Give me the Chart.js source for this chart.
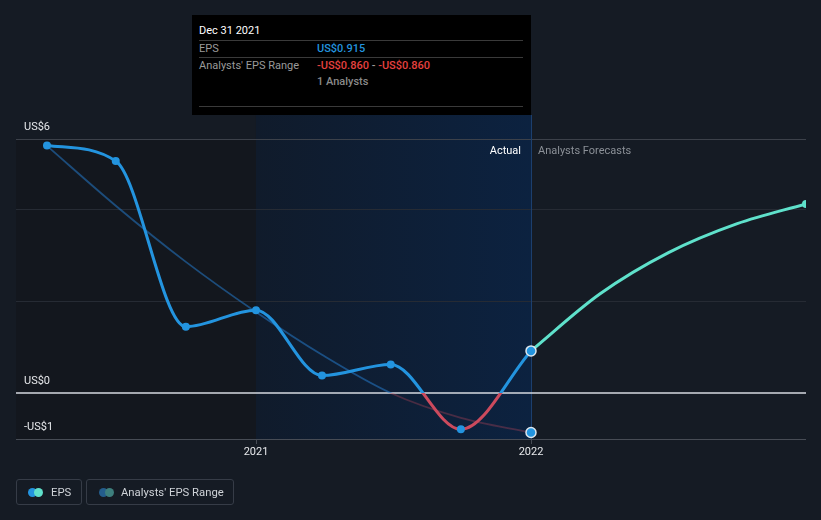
<!DOCTYPE html>
<html>
<head>
<meta charset="utf-8">
<script src="https://cdn.jsdelivr.net/npm/chart.js@4/dist/chart.umd.min.js"></script>
<style>
html,body{margin:0;padding:0;background:#151b24;width:821px;height:520px;overflow:hidden;font-family:Roboto,"Noto Sans",Arial,sans-serif;}
#wrap{position:relative;width:821px;height:520px;}
#c{position:absolute;left:0;top:0;}
#tip{position:absolute;left:192px;top:15px;width:339px;height:100px;background:#000;font-size:11px;}
#tip .t{position:absolute;line-height:13px;white-space:nowrap;}
#tip .ln{position:absolute;left:7px;width:324px;height:1px;background:#3a3a3a;}
.lg{position:absolute;top:479px;height:26px;border:1px solid #363c47;border-radius:3px;box-sizing:border-box;}
.lg .dot{position:absolute;top:8px;width:9px;height:9px;border-radius:50%;}
.lg .tx{position:absolute;top:6px;line-height:13px;font-size:11.3px;color:#cfd3d8;white-space:nowrap;}
</style>
</head>
<body>
<div id="wrap">
<canvas id="c" width="821" height="520"></canvas>
<div id="tip">
  <div class="t" style="left:7px;top:9px;color:#fff;">Dec 31 2021</div>
  <div class="ln" style="top:25px;"></div>
  <div class="t" style="left:7px;top:27px;color:#9a9a9a;">EPS</div>
  <div class="t" style="left:125px;top:27px;color:#2394df;font-weight:500;">US$0.915</div>
  <div class="ln" style="top:42px;"></div>
  <div class="t" style="left:7px;top:44px;color:#9a9a9a;">Analysts' EPS Range</div>
  <div class="t" style="left:125px;top:44px;font-weight:500;"><span style="color:#e5403f;">-US$0.860</span><span style="color:#9a9a9a;"> - </span><span style="color:#e5403f;">-US$0.860</span></div>
  <div class="t" style="left:125px;top:60px;color:#8a8a8a;font-weight:500;">1 Analysts</div>
  <div class="ln" style="top:91px;"></div>
</div>
<div class="lg" style="left:16px;width:66px;">
  <div class="dot" style="left:11px;background:#2394df;"></div>
  <div class="dot" style="left:17px;background:#5fe1cb;"></div>
  <div class="tx" style="left:34px;">EPS</div>
</div>
<div class="lg" style="left:86px;width:148px;">
  <div class="dot" style="left:12px;background:#245d8c;"></div>
  <div class="dot" style="left:18px;background:#3d7f7d;"></div>
  <div class="tx" style="left:34px;">Analysts' EPS Range</div>
</div>
</div>
<script>
// ---- data (decimal years, US$) ----
const epsDates = [2020.24, 2020.49, 2020.745, 2021.0, 2021.24, 2021.49, 2021.745, 2022.0];
const epsValues = [5.38, 5.04, 1.44, 1.80, 0.38, 0.62, -0.79, 0.915];
const rangeDates = [2020.24, 2020.49, 2020.745, 2021.0, 2021.24, 2021.49, 2021.745, 2022.0];
const rangeValues = [5.37, 4.07, 2.85, 1.76, 0.83, 0.0, -0.54, -0.86];
const forecastDates = [2022.0, 2022.25, 2022.5, 2022.75, 2023.0];
const forecastValues = [0.915, 2.15, 3.05, 3.68, 4.11];
const xTickValues = [2021, 2022];
const xTickLabels = ['2021', '2022'];
const yTickValues = [5.52, 0, -1];
const yTickLabels = ['US$6', 'US$0', '-US$1'];
const gridValues = [2, 4];
const xMin = 2020.1273, xMax = 2023.0, yMin = -1, yMax = 5.52;
const actualStart = 2021, actualEnd = 2022;

const BLUE = '#2394df', RED = '#cc4a5d', TEAL = '#5fe1cb';

function zeroSplit(colAbove, colBelow) {
  return function(context) {
    const chart = context.chart;
    const a = chart.chartArea;
    if (!a) return colAbove;
    const y0 = chart.scales.y.getPixelForValue(0);
    const s = Math.min(1, Math.max(0, (y0 - a.top) / (a.bottom - a.top)));
    const g = chart.ctx.createLinearGradient(0, a.top, 0, a.bottom);
    g.addColorStop(0, colAbove); g.addColorStop(s, colAbove);
    g.addColorStop(s, colBelow); g.addColorStop(1, colBelow);
    return g;
  };
}

const decor = {
  id: 'decor',
  beforeDatasetsDraw(chart) {
    const {ctx, chartArea: a, scales: {x, y}} = chart;
    const xa = x.getPixelForValue(actualStart), xb = x.getPixelForValue(actualEnd);
    ctx.save();
    ctx.fillStyle = '#13171e';
    ctx.fillRect(a.left, a.top, xa - a.left, a.bottom - a.top);
    const g = ctx.createLinearGradient(xa, 0, xb, 0);
    g.addColorStop(0, '#101b2b'); g.addColorStop(1, '#0c2240');
    ctx.fillStyle = g;
    ctx.fillRect(xa, 115, xb - xa, a.bottom - 115);
    // grid lines
    ctx.lineWidth = 1;
    ctx.strokeStyle = '#262b34';
    gridValues.forEach(v => {
      const py = Math.round(y.getPixelForValue(v)) + 0.5;
      ctx.beginPath(); ctx.moveTo(a.left, py); ctx.lineTo(a.right, py); ctx.stroke();
    });
    ctx.strokeStyle = '#3c414a';
    let py = Math.round(a.top) + 0.5;
    ctx.beginPath(); ctx.moveTo(a.left, py); ctx.lineTo(a.right, py); ctx.stroke();
    ctx.strokeStyle = '#474c55';
    py = Math.round(a.bottom) + 0.5;
    ctx.beginPath(); ctx.moveTo(a.left, py); ctx.lineTo(a.right, py); ctx.stroke();
    // ticks
    xTickValues.forEach(v => {
      const px = Math.round(x.getPixelForValue(v)) + 0.5;
      ctx.beginPath(); ctx.moveTo(px, a.bottom); ctx.lineTo(px, a.bottom + 5); ctx.stroke();
    });
    // divider at forecast start
    ctx.strokeStyle = '#1c3f6e';
    const pxb = Math.round(xb) + 0.5;
    ctx.beginPath(); ctx.moveTo(pxb, 115); ctx.lineTo(pxb, a.bottom); ctx.stroke();
    // zero line
    ctx.strokeStyle = '#d6dae0';
    ctx.lineWidth = 1.5;
    const pz = y.getPixelForValue(0);
    ctx.beginPath(); ctx.moveTo(a.left, pz); ctx.lineTo(a.right, pz); ctx.stroke();
    ctx.restore();
  },
  afterDraw(chart) {
    const {ctx, chartArea: a, scales: {x, y}} = chart;
    ctx.save();
    ctx.font = '11px Roboto, "Noto Sans", sans-serif';
    ctx.textBaseline = 'middle';
    ctx.fillStyle = '#e6e8eb';
    ctx.textAlign = 'left';
    yTickValues.forEach((v, i) => {
      ctx.fillText(yTickLabels[i], 24, y.getPixelForValue(v) - 12);
    });
    ctx.textAlign = 'center';
    xTickValues.forEach((v, i) => {
      ctx.fillText(xTickLabels[i], x.getPixelForValue(v), a.bottom + 13);
    });
    const xb = x.getPixelForValue(actualEnd);
    ctx.textAlign = 'right';
    ctx.fillStyle = '#ffffff';
    ctx.fillText('Actual', xb - 10, a.top + 12);
    ctx.textAlign = 'left';
    ctx.fillStyle = '#8b9097';
    ctx.fillText('Analysts Forecasts', xb + 7, a.top + 12);
    ctx.restore();
  }
};

const toXY = (xs, ys) => xs.map((d, i) => ({x: d, y: ys[i]}));
const nEps = epsValues.length, nRange = rangeValues.length, nF = forecastValues.length;

new Chart(document.getElementById('c'), {
  type: 'line',
  data: {
    datasets: [
      {
        label: 'EPS',
        data: toXY(epsDates, epsValues),
        borderColor: zeroSplit(BLUE, RED),
        borderWidth: 3,
        cubicInterpolationMode: 'monotone',
        pointBackgroundColor: BLUE,
        pointBorderColor: epsValues.map((v, i) => i === nEps - 1 ? '#dde6ee' : BLUE),
        pointBorderWidth: epsValues.map((v, i) => i === nEps - 1 ? 1.5 : 0),
        pointRadius: epsValues.map((v, i) => i === nEps - 1 ? 5 : 4),
        order: 0
      },
      {
        label: 'EPS forecast',
        data: toXY(forecastDates, forecastValues),
        borderColor: TEAL,
        borderWidth: 3,
        cubicInterpolationMode: 'monotone',
        pointBackgroundColor: TEAL,
        pointBorderWidth: 0,
        pointRadius: forecastValues.map((v, i) => i === nF - 1 ? 4 : 0),
        order: 1
      },
      {
        label: "Analysts' EPS Range",
        data: toXY(rangeDates, rangeValues),
        borderColor: zeroSplit('rgba(35,120,200,0.55)', 'rgba(200,70,90,0.32)'),
        borderWidth: 1.8,
        cubicInterpolationMode: 'monotone',
        pointBackgroundColor: BLUE,
        pointBorderColor: '#dde6ee',
        pointBorderWidth: rangeValues.map((v, i) => i === nRange - 1 ? 1.5 : 0),
        pointRadius: rangeValues.map((v, i) => i === nRange - 1 ? 5 : 0),
        order: 2
      }
    ]
  },
  options: {
    responsive: false,
    animation: false,
    devicePixelRatio: 1,
    events: [],
    layout: {padding: {left: 16, right: 15, top: 139, bottom: 81}},
    scales: {
      x: {type: 'linear', min: xMin, max: xMax, display: false},
      y: {type: 'linear', min: yMin, max: yMax, display: false}
    },
    plugins: {legend: {display: false}, tooltip: {enabled: false}}
  },
  plugins: [decor]
});
</script>
</body>
</html>
